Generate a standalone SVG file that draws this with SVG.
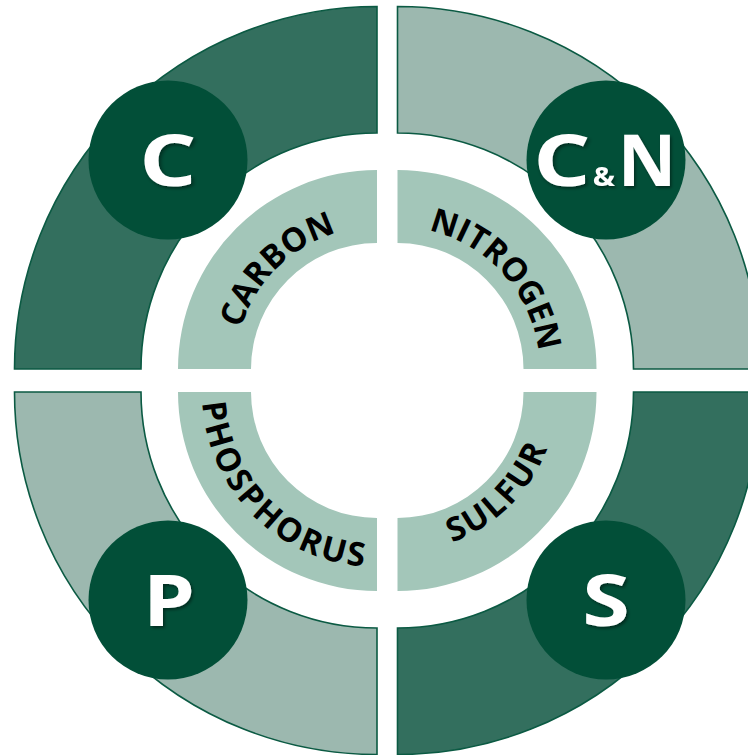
<svg xmlns="http://www.w3.org/2000/svg" width="748" height="755" viewBox="0 0 748 755">
<defs>
<style>
.dark{fill:#336f5e;stroke:#0b5a43;stroke-width:1.6}
.light{fill:#9cb8af;stroke:#0b5a43;stroke-width:1.6}
.inner{fill:#a3c6b9}
.badge{fill:#024f38}
.big{font-family:"Open Sans","Liberation Sans",sans-serif;font-weight:700;font-size:72px;fill:#ffffff;text-anchor:middle;filter:url(#sh)}
.lbl{font-family:"Open Sans","Liberation Sans",sans-serif;font-weight:700;font-size:33px;fill:#000000}
</style>
<filter id="sh" x="-20%" y="-20%" width="140%" height="140%">
<feDropShadow dx="1.5" dy="2" stdDeviation="1.5" flood-color="#000000" flood-opacity="0.45"/>
</filter>
<path id="pC" d="M 235,369 A 142 142 0 0 1 377,227"/>
<path id="pN" d="M 397.5,227 A 142 142 0 0 1 539.5,369"/>
<path id="pP" d="M 202,392 A 175 175 0 0 0 377,567"/>
<path id="pS" d="M 397.5,552 A 160 160 0 0 0 557.5,392"/>
</defs>
<g id="ring">
<path id="q-tl" class="dark" d="M 14.5,369 A 362.5 362.5 0 0 1 377,6.5 L 377,133 A 236 236 0 0 0 141,369 Z"/>
<path id="q-tr" class="light" d="M 397.5,6.5 A 362.5 362.5 0 0 1 760,369 L 633.5,369 A 236 236 0 0 0 397.5,133 Z"/>
<path id="q-bl" class="light" d="M 14.5,392 A 362.5 362.5 0 0 0 377,754.5 L 377,628 A 236 236 0 0 1 141,392 Z"/>
<path id="q-br" class="dark" d="M 397.5,754.5 A 362.5 362.5 0 0 0 760,392 L 633.5,392 A 236 236 0 0 1 397.5,628 Z"/>
</g>
<g id="carbon">
<path class="inner" d="M 178,369 A 199 199 0 0 1 377,170 L 377,243 A 126 126 0 0 0 251,369 Z"/>
<text class="lbl"><textPath href="#pC" startOffset="50%" text-anchor="middle">CARBON</textPath></text>
</g>
<g id="nitrogen">
<path class="inner" d="M 397.5,170 A 199 199 0 0 1 596.5,369 L 523.5,369 A 126 126 0 0 0 397.5,243 Z"/>
<text class="lbl"><textPath href="#pN" startOffset="53%" text-anchor="middle">NITROGEN</textPath></text>
</g>
<g id="phosphorus">
<path class="inner" d="M 178,392 A 199 199 0 0 0 377,591 L 377,518 A 126 126 0 0 1 251,392 Z"/>
<text class="lbl" style="letter-spacing:2.6px"><textPath href="#pP" startOffset="50%" text-anchor="middle">PHOSPHORUS</textPath></text>
</g>
<g id="sulfur">
<path class="inner" d="M 397.5,591 A 199 199 0 0 0 596.5,392 L 523.5,392 A 126 126 0 0 1 397.5,518 Z"/>
<text class="lbl" style="letter-spacing:2.2px"><textPath href="#pS" startOffset="50%" text-anchor="middle">SULFUR</textPath></text>
</g>
<g id="badge-c">
<circle class="badge" cx="168" cy="160" r="79.5"/>
<text class="big" transform="translate(168,186) scale(1.25,1)">C</text>
</g>
<g id="badge-cn">
<circle class="badge" cx="606" cy="160" r="79.5"/>
<text class="big" transform="translate(562,186) scale(1.25,1)">C</text>
<text class="big" transform="translate(604,186) scale(1.1,1)" style="font-size:27px">&amp;</text>
<text class="big" transform="translate(647,186)">N</text>
</g>
<g id="badge-p">
<circle class="badge" cx="168" cy="600" r="79.5"/>
<text class="big" transform="translate(169,626) scale(1.15,1)">P</text>
</g>
<g id="badge-s">
<circle class="badge" cx="606" cy="600" r="79.5"/>
<text class="big" transform="translate(606,626) scale(1.2,1)">S</text>
</g>
</svg>
